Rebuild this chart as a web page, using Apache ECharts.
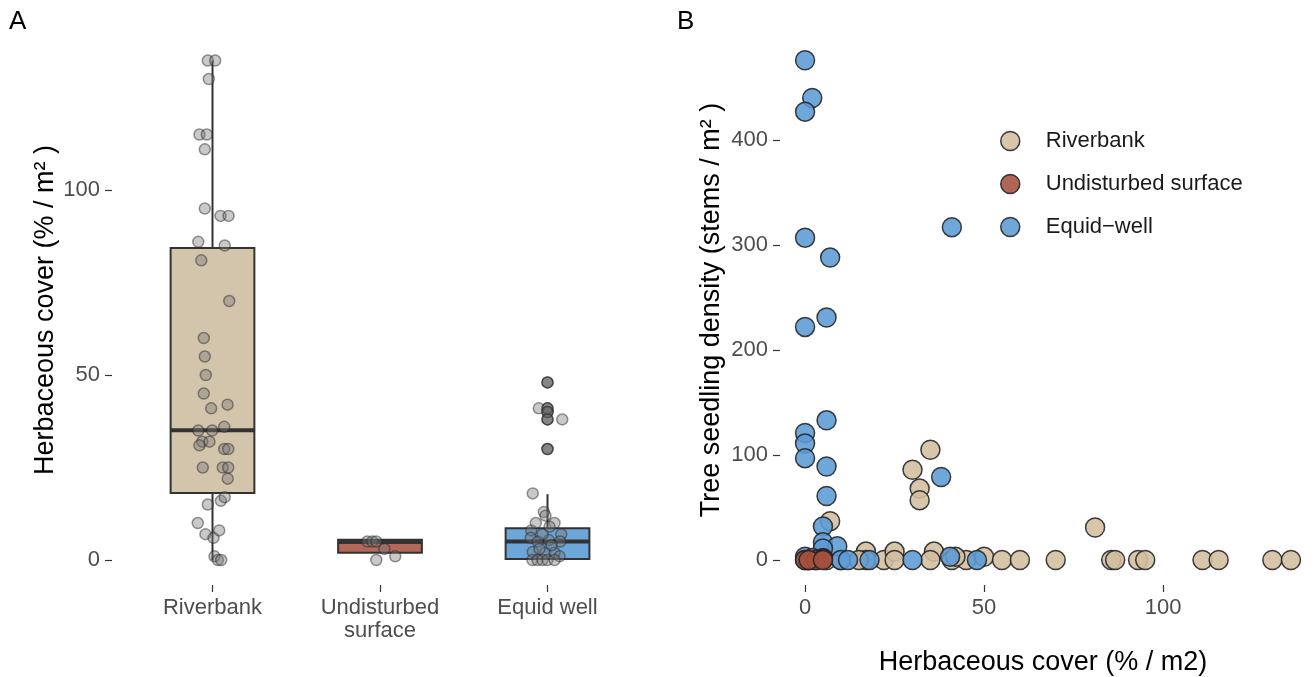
<!DOCTYPE html>
<html>
<head>
<meta charset="utf-8">
<script src="https://cdn.jsdelivr.net/npm/echarts@6/dist/echarts.min.js"></script>
<style>html,body{margin:0;padding:0;background:#fff}#c{width:1316px;height:677px}</style>
</head>
<body>
<div id="c"></div>
<script>
// ---------- Panel A data ----------
const catLabelsA = ['Riverbank', 'Undisturbed\nsurface', 'Equid well'];
// box stats: [low whisker, Q1, median, Q3, high whisker]
const boxRiverbank = [0, 18.1, 35.1, 84.3, 135];
const boxUndisturbed = [2, 2, 4.9, 5.5, 5.5];
const boxEquid = [0, 0.3, 5, 8.6, 17.8];
// jittered points: values and jitter offsets (category units)
const riverVals = [135,135,130,115,115,111,95,93,93,86,85,81,70,60,55,50,45,41,42,35,35,36,32,31,32,30,30,25,25,25,22,15,16,17,10,7,6,8,1,0,0];
const riverJit = [-0.028,0.016,-0.022,-0.078,-0.034,-0.046,-0.046,0.048,0.096,-0.085,0.073,-0.067,0.1,-0.052,-0.046,-0.04,-0.052,-0.008,0.09,-0.085,-0.002,0.07,-0.061,-0.078,-0.018,0.07,0.094,-0.058,0.061,0.094,0.091,-0.028,0.05,0.073,-0.088,-0.042,0.006,0.04,0.012,0.032,0.052];
const undVals = [5,5,5,3,0,1];
const undJit = [-0.076,-0.046,-0.022,0.026,-0.022,0.091];
const equidVals = [41,38,18,13,12,10,9,8,7,6,5,5.4,5,2.2,2,2,1,0,0,0,0,0,3,4,7,10,48,41,40,38,30];
const equidJit = [-0.052,0.088,-0.088,-0.022,-0.012,0.042,0.012,-0.097,0.082,-0.1,-0.058,0.008,0.076,-0.088,-0.014,0.042,0.072,-0.09,-0.06,-0.03,0,0.042,-0.048,0.024,-0.03,-0.07,0,0,0,0,0];
const equidOutliers = [48, 41, 40, 38, 30];

// ---------- Panel B data ----------
const bRiverbank = [[35,105],[30,86],[32,68],[32,57],[7,37],[81,31],[17,8],[17,0],[22,0],[25,8],[25,0],[36,8],[35,0],[41,0],[45,0],[50,3],[55,0],[60,0],[70,0],[85.5,0],[86.6,0],[93,0],[95,0],[111,0],[115.5,0],[130.5,0],[135.7,0],[1,0],[3,0],[6,0],[10,0],[15,0],[42,3]];
const bEquid = [[0,476],[2,440],[0,427],[0,307],[7,288],[41,317],[0,222],[6,231],[6,133],[0,121],[0,111],[0,97],[6,89],[6,61],[5,32],[38,79],[5,17],[9,13],[5,11],[0,3],[1,0],[0,0],[10,0],[12,0],[18,0],[30,0],[40.5,3],[48,0],[2,2],[5,2]];
const bUndisturbed = [[0,0],[3,0],[5,1],[1,0],[5,0]];

const seriesNamesB = ['Riverbank', 'Undisturbed surface', 'Equid\u2212well'];
const ticksAy = [0, 50, 100];
const ticksBx = [0, 50, 100];
const ticksBy = [0, 100, 200, 300, 400];

const FONT = 'Liberation Sans, Arial, Helvetica, sans-serif';
const boxFill = ['#D3C4AC', '#B3695A', '#6DA7DA'];
const ptFill = ['#D2BE9E', '#A5503F', '#5B9BD5'];

const tickStyle = {show: true, length: 7, lineStyle: {color: '#333', width: 1.2}};
const labStyleY = {color: '#4D4D4D', fontSize: 22, fontFamily: FONT, margin: 12};
const labStyleX = {color: '#4D4D4D', fontSize: 22, fontFamily: FONT, margin: 11, lineHeight: 23};
const titleStyle = {fontSize: 27, color: '#000', fontFamily: FONT};

function jitterData(vals, jit, cat) {
  return vals.map((v, i) => [cat + jit[i], v]);
}

const boxData = [
  [1].concat(boxRiverbank),
  [2].concat(boxUndisturbed),
  [3].concat(boxEquid)
];

const chart = echarts.init(document.getElementById('c'), null, {renderer: 'canvas'});
chart.setOption({
  animation: false,
  backgroundColor: '#fff',
  textStyle: {fontFamily: FONT},
  graphic: [
    {type: 'text', left: 9, top: 9, style: {text: 'A', fontSize: 26, fontFamily: FONT, fill: '#000'}},
    {type: 'text', left: 677, top: 9, style: {text: 'B', fontSize: 26, fontFamily: FONT, fill: '#000'}}
  ],
  legend: {
    data: seriesNamesB,
    orient: 'vertical',
    left: 995, top: 125,
    icon: 'circle',
    itemWidth: 19, itemHeight: 19,
    itemGap: 21,
    textStyle: {fontSize: 22, color: '#1a1a1a', fontFamily: FONT, padding: [0, 0, 0, 21]},
    itemStyle: {borderColor: '#222', borderWidth: 1.5}
  },
  grid: [
    {left: 112, top: 35, width: 536, height: 550, outerBoundsMode: 'none', containLabel: false},
    {left: 780, top: 35, width: 526, height: 550, outerBoundsMode: 'none', containLabel: false}
  ],
  xAxis: [
    {
      gridIndex: 0, type: 'value', min: 0.4, max: 3.6,
      axisLine: {show: false, onZero: false}, splitLine: {show: false},
      axisTick: Object.assign({customValues: [1, 2, 3]}, tickStyle),
      axisLabel: Object.assign({customValues: [1, 2, 3],
        formatter: v => catLabelsA[Math.round(v) - 1]}, labStyleX)
    },
    {
      gridIndex: 1, type: 'value', min: -7, max: 139.9,
      axisLine: {show: false, onZero: false}, splitLine: {show: false},
      axisTick: Object.assign({customValues: ticksBx}, tickStyle),
      axisLabel: Object.assign({customValues: ticksBx}, labStyleX),
      name: 'Herbaceous cover (% / m2)', nameLocation: 'middle', nameGap: 64,
      nameTextStyle: titleStyle
    }
  ],
  yAxis: [
    {
      gridIndex: 0, type: 'value', min: -6.75, max: 141.9,
      axisLine: {show: false, onZero: false}, splitLine: {show: false},
      axisTick: Object.assign({customValues: ticksAy}, tickStyle),
      axisLabel: Object.assign({customValues: ticksAy}, labStyleY),
      name: 'Herbaceous cover (% / m\u00B2 )', nameLocation: 'middle', nameGap: 53, nameRotate: 90,
      nameTextStyle: titleStyle
    },
    {
      gridIndex: 1, type: 'value', min: -23.8, max: 500,
      axisLine: {show: false, onZero: false}, splitLine: {show: false},
      axisTick: Object.assign({customValues: ticksBy}, tickStyle),
      axisLabel: Object.assign({customValues: ticksBy}, labStyleY),
      name: 'Tree seedling density (stems / m\u00B2 )', nameLocation: 'middle', nameGap: 55, nameRotate: 90,
      nameTextStyle: titleStyle
    }
  ],
  series: [
    {
      type: 'custom', xAxisIndex: 0, yAxisIndex: 0, z: 2,
      data: boxData,
      renderItem: function (params, api) {
        const x = api.value(0);
        const lo = api.coord([x, api.value(1)]);
        const q1 = api.coord([x, api.value(2)]);
        const md = api.coord([x, api.value(3)]);
        const q3 = api.coord([x, api.value(4)]);
        const hi = api.coord([x, api.value(5)]);
        const w = api.size([0.5, 0])[0];
        const stroke = '#333';
        return {
          type: 'group',
          children: [
            {type: 'line', shape: {x1: hi[0], y1: hi[1], x2: q3[0], y2: q3[1]}, style: {stroke: stroke, lineWidth: 2}},
            {type: 'line', shape: {x1: q1[0], y1: q1[1], x2: lo[0], y2: lo[1]}, style: {stroke: stroke, lineWidth: 2}},
            {type: 'rect', shape: {x: q3[0] - w / 2, y: q3[1], width: w, height: q1[1] - q3[1]},
              style: {fill: boxFill[params.dataIndex], stroke: stroke, lineWidth: 2}},
            {type: 'line', shape: {x1: md[0] - w / 2, y1: md[1], x2: md[0] + w / 2, y2: md[1]}, style: {stroke: stroke, lineWidth: 4}}
          ]
        };
      }
    },
    {
      type: 'scatter', xAxisIndex: 0, yAxisIndex: 0, z: 3, symbolSize: 11,
      data: equidOutliers.map(v => [3, v]),
      itemStyle: {color: 'rgba(70,70,70,0.75)', borderColor: 'rgba(30,30,30,0.8)', borderWidth: 1.5}
    },
    {
      type: 'scatter', xAxisIndex: 0, yAxisIndex: 0, z: 4, symbolSize: 11,
      data: jitterData(riverVals, riverJit, 1).concat(jitterData(undVals, undJit, 2), jitterData(equidVals, equidJit, 3)),
      itemStyle: {color: 'rgba(120,120,120,0.5)', borderColor: 'rgba(40,40,40,0.6)', borderWidth: 1.5}
    },
    {
      name: seriesNamesB[0], type: 'scatter', xAxisIndex: 1, yAxisIndex: 1, z: 3, symbolSize: 19,
      data: bRiverbank,
      itemStyle: {color: ptFill[0], borderColor: '#222', borderWidth: 1.5, opacity: 0.88}
    },
    {
      name: seriesNamesB[2], type: 'scatter', xAxisIndex: 1, yAxisIndex: 1, z: 4, symbolSize: 19,
      data: bEquid,
      itemStyle: {color: ptFill[2], borderColor: '#222', borderWidth: 1.5, opacity: 0.88}
    },
    {
      name: seriesNamesB[1], type: 'scatter', xAxisIndex: 1, yAxisIndex: 1, z: 5, symbolSize: 19,
      data: bUndisturbed,
      itemStyle: {color: ptFill[1], borderColor: '#222', borderWidth: 1.5, opacity: 0.88}
    }
  ]
});
</script>
</body>
</html>
